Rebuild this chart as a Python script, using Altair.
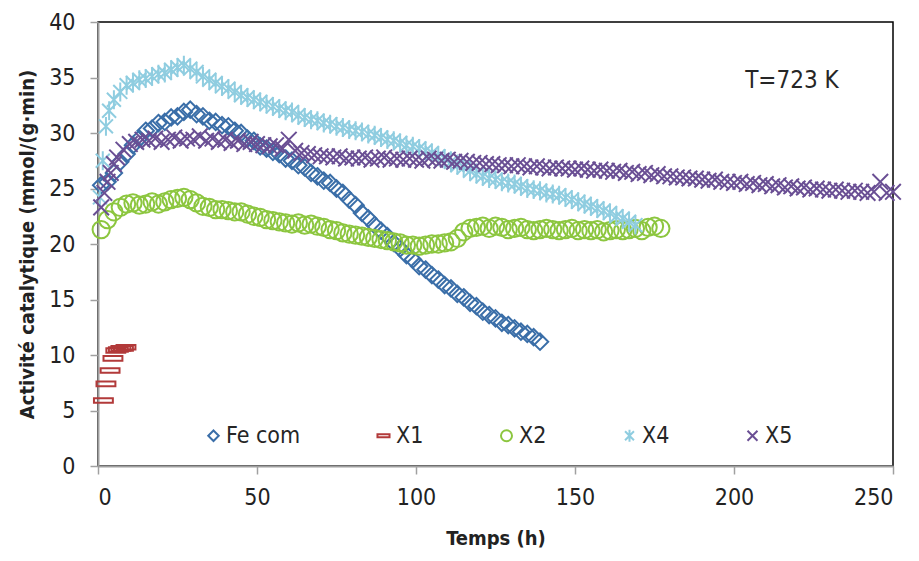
import altair as alt
import pandas as pd

# ---------------- data ----------------
series_names = ["Fe com", "X1", "X2", "X4", "X5"]
series_colors = ["#3A6EA8", "#B23A3A", "#8CC63F", "#8FCDE0", "#6A4F94"]

fe_t = [1, 3, 5, 7, 9, 11, 13, 15, 17, 19, 21, 23, 25, 27, 29, 31, 33, 35, 37, 39,
        41, 43, 45, 47, 49, 51, 53, 55, 57, 59, 61, 63, 65, 67, 69, 71, 73, 75, 77, 79,
        81, 83, 85, 87, 89, 91, 93, 95, 97, 99, 101, 103, 105, 107, 109, 111, 113, 115, 117, 119,
        121, 123, 125, 127, 129, 131, 133, 135, 137, 139]
fe_v = [25.3, 25.6, 26.4, 27.4, 28.1, 28.9, 29.5, 30.2, 30.4, 30.9, 31.0, 31.4, 31.5, 31.9, 32.1, 31.7, 31.5, 31.1, 31.0, 30.7,
        30.6, 30.2, 30.0, 29.5, 29.3, 28.8, 28.6, 28.3, 28.1, 27.7, 27.5, 27.1, 26.9, 26.4, 26.1, 25.7, 25.5, 25.0, 24.6, 24.0,
        23.5, 22.8, 22.3, 21.7, 21.2, 20.7, 20.1, 19.6, 19.0, 18.6, 18.0, 17.7, 17.2, 16.8, 16.3, 16.0, 15.5, 15.2, 14.7, 14.4,
        13.9, 13.6, 13.3, 12.9, 12.7, 12.4, 12.1, 11.9, 11.6, 11.2]

x1_t = [1.7, 2.5, 3.8, 4.7, 5.6, 6.4, 7.2, 8.0, 8.8]
x1_v = [5.9, 7.4, 8.6, 9.7, 10.4, 10.5, 10.6, 10.6, 10.7]

x2_t = [1, 3, 5, 7, 9, 11, 13, 15, 17, 19, 21, 23, 25, 27, 29, 31, 33, 35, 37, 39,
        41, 43, 45, 47, 49, 51, 53, 55, 57, 59, 61, 63, 65, 67, 69, 71, 73, 75, 77, 79,
        81, 83, 85, 87, 89, 91, 93, 95, 97, 99, 101, 103, 105, 107, 109, 111, 113, 115, 117, 119,
        121, 123, 125, 127, 129, 131, 133, 135, 137, 139, 141, 143, 145, 147, 149, 151, 153, 155, 157, 159,
        161, 163, 165, 167, 169, 171, 173, 175, 177]
x2_v = [21.3, 22.2, 22.9, 23.3, 23.6, 23.7, 23.5, 23.6, 23.8, 23.6, 23.8, 24.0, 24.1, 24.2, 24.0, 23.7, 23.4, 23.3, 23.1, 23.1,
        23.0, 22.9, 22.9, 22.7, 22.5, 22.4, 22.2, 22.1, 22.0, 21.9, 21.8, 21.9, 21.7, 21.8, 21.6, 21.5, 21.3, 21.2, 21.0, 20.9,
        20.8, 20.7, 20.6, 20.5, 20.4, 20.3, 20.2, 20.1, 19.9, 19.9, 19.8, 19.9, 20.0, 20.0, 20.1, 20.2, 20.5, 21.1, 21.4, 21.5,
        21.6, 21.4, 21.6, 21.5, 21.3, 21.4, 21.5, 21.3, 21.2, 21.3, 21.4, 21.3, 21.2, 21.3, 21.4, 21.2, 21.3, 21.2, 21.3, 21.1,
        21.2, 21.3, 21.2, 21.3, 21.4, 21.2, 21.5, 21.6, 21.4]

x4_t = [0.6, 1.5, 2.5, 3.5, 5, 7, 9, 11, 13, 15, 17, 19, 21, 23, 25, 27, 29, 31, 33, 35,
        37, 39, 41, 43, 45, 47, 49, 51, 53, 55, 57, 59, 61, 63, 65, 67, 69, 71, 73, 75,
        77, 79, 81, 83, 85, 87, 89, 91, 93, 95, 97, 99, 101, 103, 105, 107, 109, 111, 113, 115,
        117, 119, 121, 123, 125, 127, 129, 131, 133, 135, 137, 139, 141, 143, 145, 147, 149, 151, 153, 155,
        157, 159, 161, 163, 165, 167, 169]
x4_v = [24.2, 27.5, 30.6, 32.0, 33.0, 33.7, 34.3, 34.5, 34.8, 34.9, 35.1, 35.3, 35.4, 35.7, 35.9, 36.1, 35.8, 35.5, 35.1, 34.8,
        34.5, 34.2, 34.0, 33.7, 33.4, 33.2, 33.0, 32.8, 32.6, 32.4, 32.2, 32.0, 31.9, 31.6, 31.4, 31.2, 31.1, 30.9, 30.8, 30.6,
        30.5, 30.3, 30.2, 30.1, 29.9, 29.8, 29.6, 29.4, 29.3, 29.1, 28.9, 28.8, 28.6, 28.4, 28.2, 27.9, 27.7, 27.4, 27.1, 26.9,
        26.6, 26.3, 26.1, 25.9, 25.8, 25.6, 25.5, 25.4, 25.2, 25.0, 24.9, 24.8, 24.6, 24.5, 24.4, 24.2, 24.0, 23.8, 23.6, 23.4,
        23.2, 23.0, 22.8, 22.5, 22.3, 22.0, 21.7]

x5_t = [1, 2, 3, 4, 5, 6, 8, 10, 12, 14, 16, 18, 20, 22, 24, 26, 28, 30, 32, 34,
        36, 38, 40, 42, 44, 46, 48, 50, 52, 54, 56, 58, 60, 62, 64, 66, 68, 70, 72, 74,
        76, 78, 80, 82, 84, 86, 88, 90, 92, 94, 96, 98, 100, 102, 104, 106, 108, 110, 112, 114,
        116, 118, 120, 122, 124, 126, 128, 130, 132, 134, 136, 138, 140, 142, 144, 146, 148, 150, 152, 154,
        156, 158, 160, 162, 164, 166, 168, 170, 172, 174, 176, 178, 180, 182, 184, 186, 188, 190, 192, 194,
        196, 198, 200, 202, 204, 206, 208, 210, 212, 214, 216, 218, 220, 222, 224, 226, 228, 230, 232, 234,
        236, 238, 240, 242, 244, 246, 248, 250]
x5_v = [23.3, 24.6, 25.6, 26.4, 27.2, 27.8, 28.5, 29.0, 29.2, 29.4, 29.3, 29.5, 29.2, 29.4, 29.6, 29.3, 29.5, 29.4, 29.7, 29.3,
        29.5, 29.2, 29.4, 29.1, 29.3, 29.0, 29.2, 29.0, 28.9, 28.8, 28.9, 28.6, 29.4, 28.4, 28.2, 28.1, 28.0, 27.9, 27.9, 27.8,
        27.9, 27.7, 27.8, 27.7, 27.8, 27.6, 27.7, 27.8, 27.6, 27.7, 27.6, 27.7, 27.6, 27.5, 27.7, 27.6, 27.5, 27.6, 27.4, 27.5,
        27.4, 27.3, 27.3, 27.2, 27.2, 27.1, 27.1, 27.0, 27.1, 27.0, 26.9, 27.0, 26.9, 26.8, 26.9, 26.8, 26.8, 26.7, 26.8, 26.7,
        26.6, 26.7, 26.6, 26.5, 26.6, 26.4, 26.5, 26.3, 26.4, 26.2, 26.3, 26.1, 26.1, 26.0, 26.0, 25.9, 25.9, 25.8, 25.7, 25.8,
        25.6, 25.6, 25.5, 25.6, 25.4, 25.5, 25.3, 25.4, 25.2, 25.3, 25.1, 25.2, 25.0, 25.1, 24.9, 25.0, 24.9, 24.8, 24.9, 24.8,
        24.7, 24.8, 24.7, 24.6, 24.7, 25.6, 24.6, 24.7]

x_ticks = [0, 50, 100, 150, 200, 250]
y_ticks = [0, 5, 10, 15, 20, 25, 30, 35, 40]

note_text = ["T=723 K"]
note_x = [203.5]
note_y = [34.7]

# ---------------- build table ----------------
rows = []
for name, ts, vs in [("Fe com", fe_t, fe_v), ("X1", x1_t, x1_v), ("X2", x2_t, x2_v),
                     ("X4", x4_t, x4_v), ("X5", x5_t, x5_v)]:
    for t, v in zip(ts, vs):
        rows.append({"Temps": t, "Activite": v, "Serie": name})
df = pd.DataFrame(rows)
df["order"] = range(len(df))

note_df = pd.DataFrame({"x": note_x, "y": note_y, "label": note_text})

# custom marker shapes
diamond = "M0,-1L1,0L0,1L-1,0Z"
dash = "M-1.15,-0.28L1.15,-0.28L1.15,0.28L-1.15,0.28Z"
circle = "M-1.05,0A1.05,1.05,0,1,0,1.05,0A1.05,1.05,0,1,0,-1.05,0Z"
aster = "M-0.85,-0.85L0.85,0.85M-0.85,0.85L0.85,-0.85M0,-1.15L0,1.15"
xcross = "M-0.95,-0.95L0.95,0.95M-0.95,0.95L0.95,-0.95"

FONT = "DejaVu Sans Condensed, Liberation Sans Narrow, DejaVu Sans"

xscale = alt.Scale(domain=[0, 250], nice=False)
yscale = alt.Scale(domain=[0, 40], nice=False)

points = alt.Chart(df).mark_point(filled=False, size=270, strokeWidth=2, opacity=1).encode(
    x=alt.X("Temps:Q", scale=xscale,
            axis=alt.Axis(values=x_ticks, title="Temps (h)", grid=False)),
    y=alt.Y("Activite:Q", scale=yscale,
            axis=alt.Axis(values=y_ticks, title="Activité catalytique  (mmol/(g·min)", grid=False)),
    color=alt.Color("Serie:N", scale=alt.Scale(domain=series_names, range=series_colors),
                    sort=series_names,
                    legend=alt.Legend(title=None, orient="none", legendX=104, legendY=402,
                                      direction="horizontal", columns=5, columnPadding=71,
                                      symbolSize=110, symbolStrokeWidth=2,
                                      labelFontSize=23, labelFont=FONT, labelColor="#262626",
                                      labelOffset=1, labelLimit=300)),
    shape=alt.Shape("Serie:N", scale=alt.Scale(domain=series_names,
                                               range=[diamond, dash, circle, aster, xcross]),
                    sort=series_names),
    order=alt.Order("order:Q"),
)

note = alt.Chart(note_df).mark_text(align="left", baseline="middle", fontSize=24,
                                    font=FONT, color="#262626").encode(
    x=alt.X("x:Q", scale=xscale),
    y=alt.Y("y:Q", scale=yscale),
    text="label:N",
)

chart = alt.layer(points, note).properties(
    width=795, height=444,
    autosize=alt.AutoSizeParams(type="none"),
    padding={"left": 90, "top": 14, "right": 18, "bottom": 87},
).configure_view(
    stroke="#000000", strokeWidth=1.5
).configure_axis(
    domainColor="#A0A0A0", domainWidth=2, tickColor="#A0A0A0", tickWidth=1.5, tickSize=8,
    labelFont=FONT, labelFontSize=23, labelColor="#222222",
    titleFont=FONT, titleFontSize=20, titleFontWeight="bold", titleColor="#222222",
).configure_axisX(
    labelPadding=12, titlePadding=19
).configure_axisY(
    labelPadding=15, titlePadding=11
)

chart.save("out.html", embed_options={"renderer": "svg", "actions": False})
